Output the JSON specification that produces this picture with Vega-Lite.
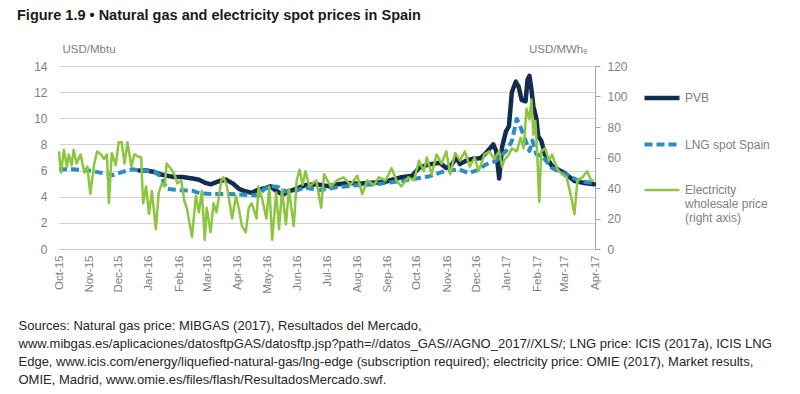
{
  "$schema": "https://vega.github.io/schema/vega-lite/v6.json",
  "width": 536,
  "height": 183,
  "autosize": {"type": "none"},
  "padding": {"left": 59, "top": 66, "right": 205, "bottom": 145},
  "background": "white",
  "title": {
    "text": "Figure 1.9 • Natural gas and electricity spot prices in Spain",
    "anchor": "start",
    "frame": "group",
    "dx": -42,
    "dy": -16,
    "fontSize": 14.5,
    "font": "Liberation Sans",
    "fontWeight": "bold",
    "color": "#1a1a1a"
  },
  "config": {
    "view": {"stroke": null},
    "font": "Liberation Sans"
  },
  "datasets": {
    "pvb": [
      {"date": "2015-12-22", "value": 6.0, "series": "PVB"},
      {"date": "2015-12-30", "value": 6.0, "series": "PVB"},
      {"date": "2016-01-06", "value": 5.9, "series": "PVB"},
      {"date": "2016-01-13", "value": 5.7, "series": "PVB"},
      {"date": "2016-01-20", "value": 5.6, "series": "PVB"},
      {"date": "2016-01-27", "value": 5.5, "series": "PVB"},
      {"date": "2016-02-05", "value": 5.5, "series": "PVB"},
      {"date": "2016-02-14", "value": 5.4, "series": "PVB"},
      {"date": "2016-02-21", "value": 5.3, "series": "PVB"},
      {"date": "2016-02-28", "value": 5.05, "series": "PVB"},
      {"date": "2016-03-04", "value": 4.95, "series": "PVB"},
      {"date": "2016-03-13", "value": 5.2, "series": "PVB"},
      {"date": "2016-03-20", "value": 5.3, "series": "PVB"},
      {"date": "2016-03-27", "value": 5.0, "series": "PVB"},
      {"date": "2016-04-02", "value": 4.6, "series": "PVB"},
      {"date": "2016-04-09", "value": 4.4, "series": "PVB"},
      {"date": "2016-04-15", "value": 4.3, "series": "PVB"},
      {"date": "2016-04-22", "value": 4.55, "series": "PVB"},
      {"date": "2016-04-29", "value": 4.65, "series": "PVB"},
      {"date": "2016-05-04", "value": 4.8, "series": "PVB"},
      {"date": "2016-05-10", "value": 4.45, "series": "PVB"},
      {"date": "2016-05-17", "value": 4.15, "series": "PVB"},
      {"date": "2016-05-22", "value": 4.4, "series": "PVB"},
      {"date": "2016-05-27", "value": 4.5, "series": "PVB"},
      {"date": "2016-06-02", "value": 4.7, "series": "PVB"},
      {"date": "2016-06-10", "value": 4.9, "series": "PVB"},
      {"date": "2016-06-20", "value": 4.95, "series": "PVB"},
      {"date": "2016-07-03", "value": 4.8, "series": "PVB"},
      {"date": "2016-07-12", "value": 4.95, "series": "PVB"},
      {"date": "2016-07-22", "value": 5.05, "series": "PVB"},
      {"date": "2016-08-03", "value": 5.0, "series": "PVB"},
      {"date": "2016-08-12", "value": 5.05, "series": "PVB"},
      {"date": "2016-08-22", "value": 5.1, "series": "PVB"},
      {"date": "2016-08-30", "value": 5.15, "series": "PVB"},
      {"date": "2016-09-08", "value": 5.35, "series": "PVB"},
      {"date": "2016-09-16", "value": 5.5, "series": "PVB"},
      {"date": "2016-09-26", "value": 5.6, "series": "PVB"},
      {"date": "2016-10-03", "value": 6.2, "series": "PVB"},
      {"date": "2016-10-12", "value": 6.45, "series": "PVB"},
      {"date": "2016-10-24", "value": 6.6, "series": "PVB"},
      {"date": "2016-10-31", "value": 6.2, "series": "PVB"},
      {"date": "2016-11-06", "value": 6.5, "series": "PVB"},
      {"date": "2016-11-10", "value": 7.0, "series": "PVB"},
      {"date": "2016-11-14", "value": 6.5, "series": "PVB"},
      {"date": "2016-11-20", "value": 6.75, "series": "PVB"},
      {"date": "2016-11-27", "value": 6.9, "series": "PVB"},
      {"date": "2016-12-05", "value": 6.95, "series": "PVB"},
      {"date": "2016-12-10", "value": 7.3, "series": "PVB"},
      {"date": "2016-12-18", "value": 8.0, "series": "PVB"},
      {"date": "2016-12-21", "value": 7.5, "series": "PVB"},
      {"date": "2016-12-24", "value": 5.4, "series": "PVB"},
      {"date": "2016-12-27", "value": 7.8, "series": "PVB"},
      {"date": "2016-12-31", "value": 9.0, "series": "PVB"},
      {"date": "2017-01-03", "value": 9.4, "series": "PVB"},
      {"date": "2017-01-06", "value": 12.0, "series": "PVB"},
      {"date": "2017-01-10", "value": 12.8, "series": "PVB"},
      {"date": "2017-01-13", "value": 12.4, "series": "PVB"},
      {"date": "2017-01-16", "value": 11.4, "series": "PVB"},
      {"date": "2017-01-20", "value": 11.3, "series": "PVB"},
      {"date": "2017-01-22", "value": 12.95, "series": "PVB"},
      {"date": "2017-01-24", "value": 13.25, "series": "PVB"},
      {"date": "2017-01-26", "value": 12.2, "series": "PVB"},
      {"date": "2017-01-28", "value": 10.9, "series": "PVB"},
      {"date": "2017-01-31", "value": 10.0, "series": "PVB"},
      {"date": "2017-02-02", "value": 8.6, "series": "PVB"},
      {"date": "2017-02-05", "value": 8.3, "series": "PVB"},
      {"date": "2017-02-09", "value": 7.2, "series": "PVB"},
      {"date": "2017-02-16", "value": 6.35, "series": "PVB"},
      {"date": "2017-03-01", "value": 5.8, "series": "PVB"},
      {"date": "2017-03-11", "value": 5.2, "series": "PVB"},
      {"date": "2017-03-21", "value": 5.05, "series": "PVB"},
      {"date": "2017-03-31", "value": 4.95, "series": "PVB"}
    ],
    "lng": [
      {"date": "2015-10-01", "value": 6.1, "series": "LNG spot Spain"},
      {"date": "2015-10-15", "value": 6.1, "series": "LNG spot Spain"},
      {"date": "2015-11-01", "value": 6.0, "series": "LNG spot Spain"},
      {"date": "2015-11-15", "value": 5.8, "series": "LNG spot Spain"},
      {"date": "2015-11-25", "value": 5.65, "series": "LNG spot Spain"},
      {"date": "2015-12-05", "value": 5.9, "series": "LNG spot Spain"},
      {"date": "2015-12-15", "value": 6.1, "series": "LNG spot Spain"},
      {"date": "2015-12-25", "value": 6.0, "series": "LNG spot Spain"},
      {"date": "2016-01-07", "value": 5.9, "series": "LNG spot Spain"},
      {"date": "2016-01-14", "value": 5.5, "series": "LNG spot Spain"},
      {"date": "2016-01-19", "value": 4.6, "series": "LNG spot Spain"},
      {"date": "2016-02-01", "value": 4.5, "series": "LNG spot Spain"},
      {"date": "2016-02-15", "value": 4.45, "series": "LNG spot Spain"},
      {"date": "2016-02-22", "value": 4.25, "series": "LNG spot Spain"},
      {"date": "2016-03-10", "value": 4.2, "series": "LNG spot Spain"},
      {"date": "2016-03-25", "value": 4.2, "series": "LNG spot Spain"},
      {"date": "2016-04-07", "value": 4.15, "series": "LNG spot Spain"},
      {"date": "2016-04-22", "value": 4.1, "series": "LNG spot Spain"},
      {"date": "2016-04-28", "value": 4.6, "series": "LNG spot Spain"},
      {"date": "2016-05-05", "value": 4.8, "series": "LNG spot Spain"},
      {"date": "2016-05-12", "value": 4.75, "series": "LNG spot Spain"},
      {"date": "2016-05-20", "value": 4.4, "series": "LNG spot Spain"},
      {"date": "2016-06-01", "value": 4.5, "series": "LNG spot Spain"},
      {"date": "2016-06-08", "value": 4.7, "series": "LNG spot Spain"},
      {"date": "2016-06-23", "value": 4.5, "series": "LNG spot Spain"},
      {"date": "2016-07-13", "value": 4.75, "series": "LNG spot Spain"},
      {"date": "2016-08-03", "value": 4.9, "series": "LNG spot Spain"},
      {"date": "2016-08-20", "value": 4.95, "series": "LNG spot Spain"},
      {"date": "2016-09-05", "value": 5.1, "series": "LNG spot Spain"},
      {"date": "2016-09-23", "value": 5.3, "series": "LNG spot Spain"},
      {"date": "2016-10-13", "value": 5.55, "series": "LNG spot Spain"},
      {"date": "2016-10-29", "value": 5.95, "series": "LNG spot Spain"},
      {"date": "2016-11-13", "value": 6.1, "series": "LNG spot Spain"},
      {"date": "2016-11-23", "value": 5.8, "series": "LNG spot Spain"},
      {"date": "2016-12-03", "value": 6.05, "series": "LNG spot Spain"},
      {"date": "2016-12-10", "value": 6.45, "series": "LNG spot Spain"},
      {"date": "2016-12-20", "value": 6.7, "series": "LNG spot Spain"},
      {"date": "2016-12-31", "value": 7.5, "series": "LNG spot Spain"},
      {"date": "2017-01-06", "value": 8.25, "series": "LNG spot Spain"},
      {"date": "2017-01-11", "value": 9.95, "series": "LNG spot Spain"},
      {"date": "2017-01-15", "value": 9.3, "series": "LNG spot Spain"},
      {"date": "2017-01-20", "value": 8.3, "series": "LNG spot Spain"},
      {"date": "2017-01-24", "value": 7.5, "series": "LNG spot Spain"},
      {"date": "2017-01-27", "value": 8.3, "series": "LNG spot Spain"},
      {"date": "2017-01-31", "value": 7.25, "series": "LNG spot Spain"},
      {"date": "2017-02-06", "value": 7.1, "series": "LNG spot Spain"},
      {"date": "2017-02-16", "value": 6.2, "series": "LNG spot Spain"},
      {"date": "2017-03-02", "value": 5.7, "series": "LNG spot Spain"},
      {"date": "2017-03-16", "value": 5.2, "series": "LNG spot Spain"},
      {"date": "2017-03-30", "value": 5.05, "series": "LNG spot Spain"}
    ],
    "elec": [
      {"date": "2015-10-01", "value": 64, "series": "Electricity wholesale price (right axis)"},
      {"date": "2015-10-03", "value": 50, "series": "Electricity wholesale price (right axis)"},
      {"date": "2015-10-06", "value": 65, "series": "Electricity wholesale price (right axis)"},
      {"date": "2015-10-09", "value": 54, "series": "Electricity wholesale price (right axis)"},
      {"date": "2015-10-11", "value": 62, "series": "Electricity wholesale price (right axis)"},
      {"date": "2015-10-14", "value": 55, "series": "Electricity wholesale price (right axis)"},
      {"date": "2015-10-16", "value": 65, "series": "Electricity wholesale price (right axis)"},
      {"date": "2015-10-19", "value": 56, "series": "Electricity wholesale price (right axis)"},
      {"date": "2015-10-23", "value": 62, "series": "Electricity wholesale price (right axis)"},
      {"date": "2015-10-27", "value": 50, "series": "Electricity wholesale price (right axis)"},
      {"date": "2015-10-30", "value": 54, "series": "Electricity wholesale price (right axis)"},
      {"date": "2015-11-02", "value": 36, "series": "Electricity wholesale price (right axis)"},
      {"date": "2015-11-06", "value": 56, "series": "Electricity wholesale price (right axis)"},
      {"date": "2015-11-09", "value": 64, "series": "Electricity wholesale price (right axis)"},
      {"date": "2015-11-13", "value": 62, "series": "Electricity wholesale price (right axis)"},
      {"date": "2015-11-16", "value": 59, "series": "Electricity wholesale price (right axis)"},
      {"date": "2015-11-19", "value": 62, "series": "Electricity wholesale price (right axis)"},
      {"date": "2015-11-21", "value": 30, "series": "Electricity wholesale price (right axis)"},
      {"date": "2015-11-24", "value": 63, "series": "Electricity wholesale price (right axis)"},
      {"date": "2015-11-28", "value": 55, "series": "Electricity wholesale price (right axis)"},
      {"date": "2015-12-01", "value": 70, "series": "Electricity wholesale price (right axis)"},
      {"date": "2015-12-04", "value": 70, "series": "Electricity wholesale price (right axis)"},
      {"date": "2015-12-07", "value": 56, "series": "Electricity wholesale price (right axis)"},
      {"date": "2015-12-10", "value": 70, "series": "Electricity wholesale price (right axis)"},
      {"date": "2015-12-14", "value": 54, "series": "Electricity wholesale price (right axis)"},
      {"date": "2015-12-17", "value": 62, "series": "Electricity wholesale price (right axis)"},
      {"date": "2015-12-20", "value": 61, "series": "Electricity wholesale price (right axis)"},
      {"date": "2015-12-24", "value": 60, "series": "Electricity wholesale price (right axis)"},
      {"date": "2015-12-26", "value": 30, "series": "Electricity wholesale price (right axis)"},
      {"date": "2015-12-29", "value": 41, "series": "Electricity wholesale price (right axis)"},
      {"date": "2016-01-01", "value": 23, "series": "Electricity wholesale price (right axis)"},
      {"date": "2016-01-04", "value": 38, "series": "Electricity wholesale price (right axis)"},
      {"date": "2016-01-08", "value": 13, "series": "Electricity wholesale price (right axis)"},
      {"date": "2016-01-11", "value": 37, "series": "Electricity wholesale price (right axis)"},
      {"date": "2016-01-14", "value": 43, "series": "Electricity wholesale price (right axis)"},
      {"date": "2016-01-17", "value": 41, "series": "Electricity wholesale price (right axis)"},
      {"date": "2016-01-19", "value": 56, "series": "Electricity wholesale price (right axis)"},
      {"date": "2016-01-23", "value": 53, "series": "Electricity wholesale price (right axis)"},
      {"date": "2016-01-27", "value": 49, "series": "Electricity wholesale price (right axis)"},
      {"date": "2016-01-30", "value": 43, "series": "Electricity wholesale price (right axis)"},
      {"date": "2016-02-03", "value": 45, "series": "Electricity wholesale price (right axis)"},
      {"date": "2016-02-06", "value": 32, "series": "Electricity wholesale price (right axis)"},
      {"date": "2016-02-09", "value": 26, "series": "Electricity wholesale price (right axis)"},
      {"date": "2016-02-12", "value": 15, "series": "Electricity wholesale price (right axis)"},
      {"date": "2016-02-14", "value": 8, "series": "Electricity wholesale price (right axis)"},
      {"date": "2016-02-18", "value": 35, "series": "Electricity wholesale price (right axis)"},
      {"date": "2016-02-21", "value": 24, "series": "Electricity wholesale price (right axis)"},
      {"date": "2016-02-24", "value": 38, "series": "Electricity wholesale price (right axis)"},
      {"date": "2016-02-27", "value": 6, "series": "Electricity wholesale price (right axis)"},
      {"date": "2016-02-29", "value": 27, "series": "Electricity wholesale price (right axis)"},
      {"date": "2016-03-04", "value": 11, "series": "Electricity wholesale price (right axis)"},
      {"date": "2016-03-07", "value": 30, "series": "Electricity wholesale price (right axis)"},
      {"date": "2016-03-10", "value": 24, "series": "Electricity wholesale price (right axis)"},
      {"date": "2016-03-15", "value": 45, "series": "Electricity wholesale price (right axis)"},
      {"date": "2016-03-17", "value": 47, "series": "Electricity wholesale price (right axis)"},
      {"date": "2016-03-20", "value": 43, "series": "Electricity wholesale price (right axis)"},
      {"date": "2016-03-23", "value": 32, "series": "Electricity wholesale price (right axis)"},
      {"date": "2016-03-26", "value": 20, "series": "Electricity wholesale price (right axis)"},
      {"date": "2016-03-30", "value": 35, "series": "Electricity wholesale price (right axis)"},
      {"date": "2016-04-02", "value": 26, "series": "Electricity wholesale price (right axis)"},
      {"date": "2016-04-05", "value": 15, "series": "Electricity wholesale price (right axis)"},
      {"date": "2016-04-09", "value": 11, "series": "Electricity wholesale price (right axis)"},
      {"date": "2016-04-12", "value": 27, "series": "Electricity wholesale price (right axis)"},
      {"date": "2016-04-15", "value": 30, "series": "Electricity wholesale price (right axis)"},
      {"date": "2016-04-20", "value": 20, "series": "Electricity wholesale price (right axis)"},
      {"date": "2016-04-22", "value": 41, "series": "Electricity wholesale price (right axis)"},
      {"date": "2016-04-26", "value": 32, "series": "Electricity wholesale price (right axis)"},
      {"date": "2016-04-30", "value": 20, "series": "Electricity wholesale price (right axis)"},
      {"date": "2016-05-03", "value": 41, "series": "Electricity wholesale price (right axis)"},
      {"date": "2016-05-06", "value": 6, "series": "Electricity wholesale price (right axis)"},
      {"date": "2016-05-10", "value": 37, "series": "Electricity wholesale price (right axis)"},
      {"date": "2016-05-13", "value": 13, "series": "Electricity wholesale price (right axis)"},
      {"date": "2016-05-16", "value": 39, "series": "Electricity wholesale price (right axis)"},
      {"date": "2016-05-20", "value": 16, "series": "Electricity wholesale price (right axis)"},
      {"date": "2016-05-23", "value": 39, "series": "Electricity wholesale price (right axis)"},
      {"date": "2016-05-28", "value": 15, "series": "Electricity wholesale price (right axis)"},
      {"date": "2016-05-31", "value": 45, "series": "Electricity wholesale price (right axis)"},
      {"date": "2016-06-03", "value": 52, "series": "Electricity wholesale price (right axis)"},
      {"date": "2016-06-06", "value": 42, "series": "Electricity wholesale price (right axis)"},
      {"date": "2016-06-09", "value": 51, "series": "Electricity wholesale price (right axis)"},
      {"date": "2016-06-13", "value": 41, "series": "Electricity wholesale price (right axis)"},
      {"date": "2016-06-20", "value": 45, "series": "Electricity wholesale price (right axis)"},
      {"date": "2016-06-25", "value": 27, "series": "Electricity wholesale price (right axis)"},
      {"date": "2016-06-28", "value": 49, "series": "Electricity wholesale price (right axis)"},
      {"date": "2016-07-05", "value": 41, "series": "Electricity wholesale price (right axis)"},
      {"date": "2016-07-11", "value": 45, "series": "Electricity wholesale price (right axis)"},
      {"date": "2016-07-18", "value": 47, "series": "Electricity wholesale price (right axis)"},
      {"date": "2016-07-25", "value": 42, "series": "Electricity wholesale price (right axis)"},
      {"date": "2016-08-01", "value": 48, "series": "Electricity wholesale price (right axis)"},
      {"date": "2016-08-06", "value": 36, "series": "Electricity wholesale price (right axis)"},
      {"date": "2016-08-11", "value": 45, "series": "Electricity wholesale price (right axis)"},
      {"date": "2016-08-18", "value": 42, "series": "Electricity wholesale price (right axis)"},
      {"date": "2016-08-23", "value": 47, "series": "Electricity wholesale price (right axis)"},
      {"date": "2016-08-30", "value": 45, "series": "Electricity wholesale price (right axis)"},
      {"date": "2016-09-05", "value": 53, "series": "Electricity wholesale price (right axis)"},
      {"date": "2016-09-10", "value": 45, "series": "Electricity wholesale price (right axis)"},
      {"date": "2016-09-15", "value": 41, "series": "Electricity wholesale price (right axis)"},
      {"date": "2016-09-22", "value": 47, "series": "Electricity wholesale price (right axis)"},
      {"date": "2016-09-28", "value": 45, "series": "Electricity wholesale price (right axis)"},
      {"date": "2016-10-03", "value": 58, "series": "Electricity wholesale price (right axis)"},
      {"date": "2016-10-08", "value": 51, "series": "Electricity wholesale price (right axis)"},
      {"date": "2016-10-11", "value": 60, "series": "Electricity wholesale price (right axis)"},
      {"date": "2016-10-16", "value": 49, "series": "Electricity wholesale price (right axis)"},
      {"date": "2016-10-21", "value": 62, "series": "Electricity wholesale price (right axis)"},
      {"date": "2016-10-26", "value": 56, "series": "Electricity wholesale price (right axis)"},
      {"date": "2016-10-31", "value": 64, "series": "Electricity wholesale price (right axis)"},
      {"date": "2016-11-04", "value": 49, "series": "Electricity wholesale price (right axis)"},
      {"date": "2016-11-09", "value": 63, "series": "Electricity wholesale price (right axis)"},
      {"date": "2016-11-14", "value": 58, "series": "Electricity wholesale price (right axis)"},
      {"date": "2016-11-19", "value": 64, "series": "Electricity wholesale price (right axis)"},
      {"date": "2016-11-24", "value": 54, "series": "Electricity wholesale price (right axis)"},
      {"date": "2016-11-29", "value": 60, "series": "Electricity wholesale price (right axis)"},
      {"date": "2016-12-03", "value": 51, "series": "Electricity wholesale price (right axis)"},
      {"date": "2016-12-09", "value": 62, "series": "Electricity wholesale price (right axis)"},
      {"date": "2016-12-14", "value": 64, "series": "Electricity wholesale price (right axis)"},
      {"date": "2016-12-19", "value": 59, "series": "Electricity wholesale price (right axis)"},
      {"date": "2016-12-24", "value": 64, "series": "Electricity wholesale price (right axis)"},
      {"date": "2016-12-27", "value": 54, "series": "Electricity wholesale price (right axis)"},
      {"date": "2016-12-29", "value": 58, "series": "Electricity wholesale price (right axis)"},
      {"date": "2017-01-03", "value": 62, "series": "Electricity wholesale price (right axis)"},
      {"date": "2017-01-06", "value": 66, "series": "Electricity wholesale price (right axis)"},
      {"date": "2017-01-11", "value": 64, "series": "Electricity wholesale price (right axis)"},
      {"date": "2017-01-15", "value": 73, "series": "Electricity wholesale price (right axis)"},
      {"date": "2017-01-18", "value": 66, "series": "Electricity wholesale price (right axis)"},
      {"date": "2017-01-21", "value": 92, "series": "Electricity wholesale price (right axis)"},
      {"date": "2017-01-24", "value": 85, "series": "Electricity wholesale price (right axis)"},
      {"date": "2017-01-26", "value": 98, "series": "Electricity wholesale price (right axis)"},
      {"date": "2017-01-28", "value": 75, "series": "Electricity wholesale price (right axis)"},
      {"date": "2017-01-30", "value": 84, "series": "Electricity wholesale price (right axis)"},
      {"date": "2017-02-01", "value": 62, "series": "Electricity wholesale price (right axis)"},
      {"date": "2017-02-03", "value": 31, "series": "Electricity wholesale price (right axis)"},
      {"date": "2017-02-05", "value": 64, "series": "Electricity wholesale price (right axis)"},
      {"date": "2017-02-09", "value": 66, "series": "Electricity wholesale price (right axis)"},
      {"date": "2017-02-13", "value": 58, "series": "Electricity wholesale price (right axis)"},
      {"date": "2017-02-16", "value": 62, "series": "Electricity wholesale price (right axis)"},
      {"date": "2017-02-21", "value": 53, "series": "Electricity wholesale price (right axis)"},
      {"date": "2017-02-26", "value": 49, "series": "Electricity wholesale price (right axis)"},
      {"date": "2017-03-03", "value": 47, "series": "Electricity wholesale price (right axis)"},
      {"date": "2017-03-07", "value": 36, "series": "Electricity wholesale price (right axis)"},
      {"date": "2017-03-11", "value": 23, "series": "Electricity wholesale price (right axis)"},
      {"date": "2017-03-14", "value": 45, "series": "Electricity wholesale price (right axis)"},
      {"date": "2017-03-19", "value": 47, "series": "Electricity wholesale price (right axis)"},
      {"date": "2017-03-24", "value": 51, "series": "Electricity wholesale price (right axis)"},
      {"date": "2017-03-28", "value": 45, "series": "Electricity wholesale price (right axis)"},
      {"date": "2017-03-31", "value": 45, "series": "Electricity wholesale price (right axis)"}
    ]
  },
  "encoding": {
    "x": {
      "field": "date",
      "type": "temporal",
      "scale": {
        "type": "utc",
        "domain": [
          {"year": 2015, "month": 10, "date": 1, "utc": true},
          {"year": 2017, "month": 4, "date": 1, "utc": true}
        ]
      },
      "axis": {
        "tickCount": {"interval": "month", "step": 1},
        "labelExpr": "utcFormat(datum.value, '%b-%y')",
        "labelAngle": -90,
        "labelAlign": "right",
        "labelBaseline": "middle",
        "labelPadding": 6,
        "labelFontSize": 11.5,
        "labelColor": "#7f7f7f",
        "labelFont": "Liberation Sans",
        "labelOverlap": false,
        "labelFlush": false,
        "grid": false,
        "ticks": false,
        "domain": true,
        "domainColor": "#c8c8c8",
        "title": [
          "Sources: Natural gas price: MIBGAS (2017), Resultados del Mercado,",
          "www.mibgas.es/aplicaciones/datosftpGAS/datosftp.jsp?path=//datos_GAS//AGNO_2017//XLS/; LNG price: ICIS (2017a), ICIS LNG",
          "Edge, www.icis.com/energy/liquefied-natural-gas/lng-edge (subscription required); electricity price: OMIE (2017), Market results,",
          "OMIE, Madrid, www.omie.es/files/flash/ResultadosMercado.swf."
        ],
        "titleFont": "Liberation Sans",
        "titleFontSize": 13,
        "titleFontWeight": "normal",
        "titleColor": "#262626",
        "titleAnchor": "start",
        "titleAlign": "left",
        "titleBaseline": "alphabetic",
        "titleX": -41,
        "titleY": 80,
        "titleLineHeight": 18
      }
    },
    "color": {
      "field": "series",
      "type": "nominal",
      "scale": {
        "domain": ["PVB", "LNG spot Spain", "Electricity wholesale price (right axis)"],
        "range": ["#132d4f", "#2b8dc2", "#8cc63f"]
      },
      "legend": {
        "orient": "none",
        "legendX": 583,
        "legendY": 12,
        "title": null,
        "padding": 0,
        "symbolType": "stroke",
        "symbolSize": 1225,
        "labelFontSize": 12,
        "labelFont": "Liberation Sans",
        "labelColor": "#808080",
        "labelOffset": 3,
        "rowPadding": 18,
        "labelExpr": "datum.label == 'Electricity wholesale price (right axis)' ? ['Electricity', 'wholesale price', '(right axis)'] : datum.label"
      }
    },
    "strokeDash": {
      "field": "series",
      "type": "nominal",
      "scale": {
        "domain": ["PVB", "LNG spot Spain", "Electricity wholesale price (right axis)"],
        "range": [[1, 0], [8, 4], [1, 0]]
      },
      "legend": {
        "orient": "none",
        "legendX": 583,
        "legendY": 12,
        "title": null,
        "padding": 0,
        "symbolType": "stroke",
        "symbolSize": 1225,
        "labelFontSize": 12,
        "labelFont": "Liberation Sans",
        "labelColor": "#808080",
        "labelOffset": 3,
        "rowPadding": 18,
        "labelExpr": "datum.label == 'Electricity wholesale price (right axis)' ? ['Electricity', 'wholesale price', '(right axis)'] : datum.label"
      }
    },
    "strokeWidth": {
      "field": "series",
      "type": "nominal",
      "scale": {
        "type": "ordinal",
        "domain": ["PVB", "LNG spot Spain", "Electricity wholesale price (right axis)"],
        "range": [4.5, 4, 2.5]
      },
      "legend": {
        "orient": "none",
        "legendX": 583,
        "legendY": 12,
        "title": null,
        "padding": 0,
        "symbolType": "stroke",
        "symbolSize": 1225,
        "labelFontSize": 12,
        "labelFont": "Liberation Sans",
        "labelColor": "#808080",
        "labelOffset": 3,
        "rowPadding": 18,
        "labelExpr": "datum.label == 'Electricity wholesale price (right axis)' ? ['Electricity', 'wholesale price', '(right axis)'] : datum.label"
      }
    }
  },
  "resolve": {"scale": {"y": "independent"}},
  "layer": [
    {
      "encoding": {
        "y": {
          "field": "value",
          "type": "quantitative",
          "scale": {"domain": [0, 14], "nice": false},
          "axis": {
            "values": [0, 2, 4, 6, 8, 10, 12, 14],
            "title": "USD/Mbtu",
            "titleAngle": 0,
            "titleAlign": "left",
            "titleBaseline": "alphabetic",
            "titleX": 3,
            "titleY": -14,
            "titleFont": "Liberation Sans",
            "titleFontSize": 11.5,
            "titleFontWeight": "normal",
            "titleColor": "#808080",
            "grid": true,
            "gridColor": "#d4d4d4",
            "gridWidth": 1,
            "domain": false,
            "ticks": false,
            "labelPadding": 12,
            "labelFontSize": 12,
            "labelFont": "Liberation Sans",
            "labelColor": "#7f7f7f"
          }
        }
      },
      "layer": [
        {
          "data": {"name": "pvb"},
          "mark": {"type": "line", "strokeJoin": "round", "strokeCap": "round"}
        },
        {
          "data": {"name": "lng"},
          "mark": {"type": "line", "strokeJoin": "round"}
        }
      ]
    },
    {
      "data": {"name": "elec"},
      "mark": {"type": "line", "strokeJoin": "round"},
      "encoding": {
        "y": {
          "field": "value",
          "type": "quantitative",
          "scale": {"domain": [0, 120], "nice": false},
          "axis": {
            "orient": "right",
            "values": [0, 20, 40, 60, 80, 100, 120],
            "title": "USD/MWhₑ",
            "titleAngle": 0,
            "titleAlign": "right",
            "titleBaseline": "alphabetic",
            "titleX": -8,
            "titleY": -14,
            "titleFont": "Liberation Sans",
            "titleFontSize": 11.5,
            "titleFontWeight": "normal",
            "titleColor": "#808080",
            "grid": false,
            "domain": true,
            "domainColor": "#a6a6a6",
            "ticks": true,
            "tickColor": "#a6a6a6",
            "tickSize": 5,
            "labelPadding": 7,
            "labelFontSize": 12,
            "labelFont": "Liberation Sans",
            "labelColor": "#7f7f7f"
          }
        }
      }
    }
  ]
}
